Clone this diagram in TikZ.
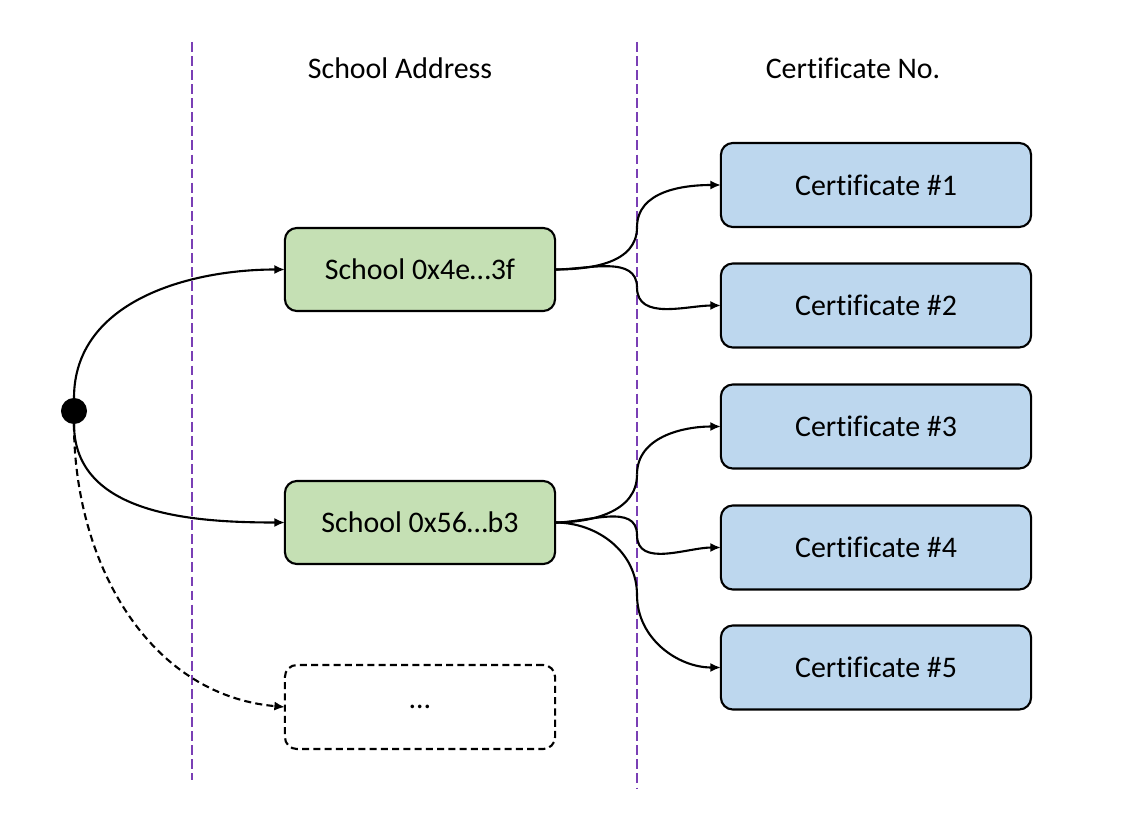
\documentclass[tikz,border=0pt]{standalone}
\usepackage{fontspec}
\setmainfont[Ligatures=NoCommon]{Carlito}
\usetikzlibrary{arrows.meta}
\definecolor{vpurple}{HTML}{7A3FB5}
\definecolor{sgreen}{HTML}{C5E0B4}
\definecolor{cblue}{HTML}{BDD7EE}
\begin{document}
\begin{tikzpicture}[x=0.01cm,y=-0.01cm,
  font=\fontsize{8.5pt}{10pt}\selectfont,
  schoolbox/.style={draw=black,line width=0.6pt,rounded corners=3.4pt,fill=sgreen,minimum width=2.7cm,minimum height=0.83cm,inner sep=0pt,outer sep=0pt},
  emptybox/.style={draw=black,line width=0.6pt,rounded corners=3.4pt,dash pattern=on 2pt off 1.2pt,minimum width=2.7cm,minimum height=0.84cm,inner sep=0pt,outer sep=0pt},
  certbox/.style={draw=black,line width=0.6pt,rounded corners=3.4pt,fill=cblue,minimum width=3.1cm,minimum height=0.84cm,inner sep=0pt,outer sep=0pt},
  divider/.style={draw=vpurple,line width=0.75pt,dash pattern=on 2.8pt off 1.2pt},
  conn/.style={draw=black,line width=0.6pt,-{Latex[length=3pt,width=2.6pt]}},
  half/.style={draw=black,line width=0.6pt}
]
\useasboundingbox (0,0) rectangle (1143,828);
\coordinate (l1t) at (192,42);
\coordinate (l1b) at (192,780);
\coordinate (l2t) at (637,42);
\coordinate (l2b) at (637,788);
\draw[divider] (l1t) -- (l1b);
\draw[divider] (l2t) -- (l2b);
\node (h1) at (400,68) {School Address};
\node (h2) at (853,68) {Certificate No.};

\node[schoolbox] (s1) at (420,269.5) {School 0x4e\ldots3f};
\node[schoolbox] (s2) at (420,522.5) {School 0x56\ldots b3};
\node[emptybox] (s3) at (420,707) {\ldots};

\node[certbox] (c1) at (876,185) {Certificate \#1};
\node[certbox] (c2) at (876,305.5) {Certificate \#2};
\node[certbox] (c3) at (876,426.5) {Certificate \#3};
\node[certbox] (c4) at (876,547.5) {Certificate \#4};
\node[certbox] (c5) at (876,667.5) {Certificate \#5};

\node[circle,fill=black,minimum size=0.26cm,inner sep=0pt,outer sep=0pt] (dot) at (74,411) {};

\draw[conn] (dot.north) to[out=90,in=180] (s1.west);
\draw[conn] (dot.south) to[out=-90,in=180] (s2.west);
\draw[conn,dash pattern=on 2pt off 1.2pt] (dot.south) to[out=-90,in=175] (s3.west);

\coordinate (m1) at (637,227.25);
\coordinate (m2) at (637,287.5);
\coordinate (m3) at (637,474.5);
\coordinate (m4) at (637,535);
\coordinate (m5) at (637,595);
\draw[half] (s1.east) to[out=0,in=-90] (m1);
\draw[conn] (m1) to[out=90,in=180] (c1.west);
\draw[half] (s1.east) to[out=0,in=90] (m2);
\draw[conn] (m2) to[out=-90,in=180] (c2.west);
\draw[half] (s2.east) to[out=0,in=-90] (m3);
\draw[conn] (m3) to[out=90,in=180] (c3.west);
\draw[half] (s2.east) to[out=0,in=90] (m4);
\draw[conn] (m4) to[out=-90,in=180] (c4.west);
\draw[half] (s2.east) to[out=0,in=90] (m5);
\draw[conn] (m5) to[out=-90,in=180] (c5.west);
\end{tikzpicture}
\end{document}
